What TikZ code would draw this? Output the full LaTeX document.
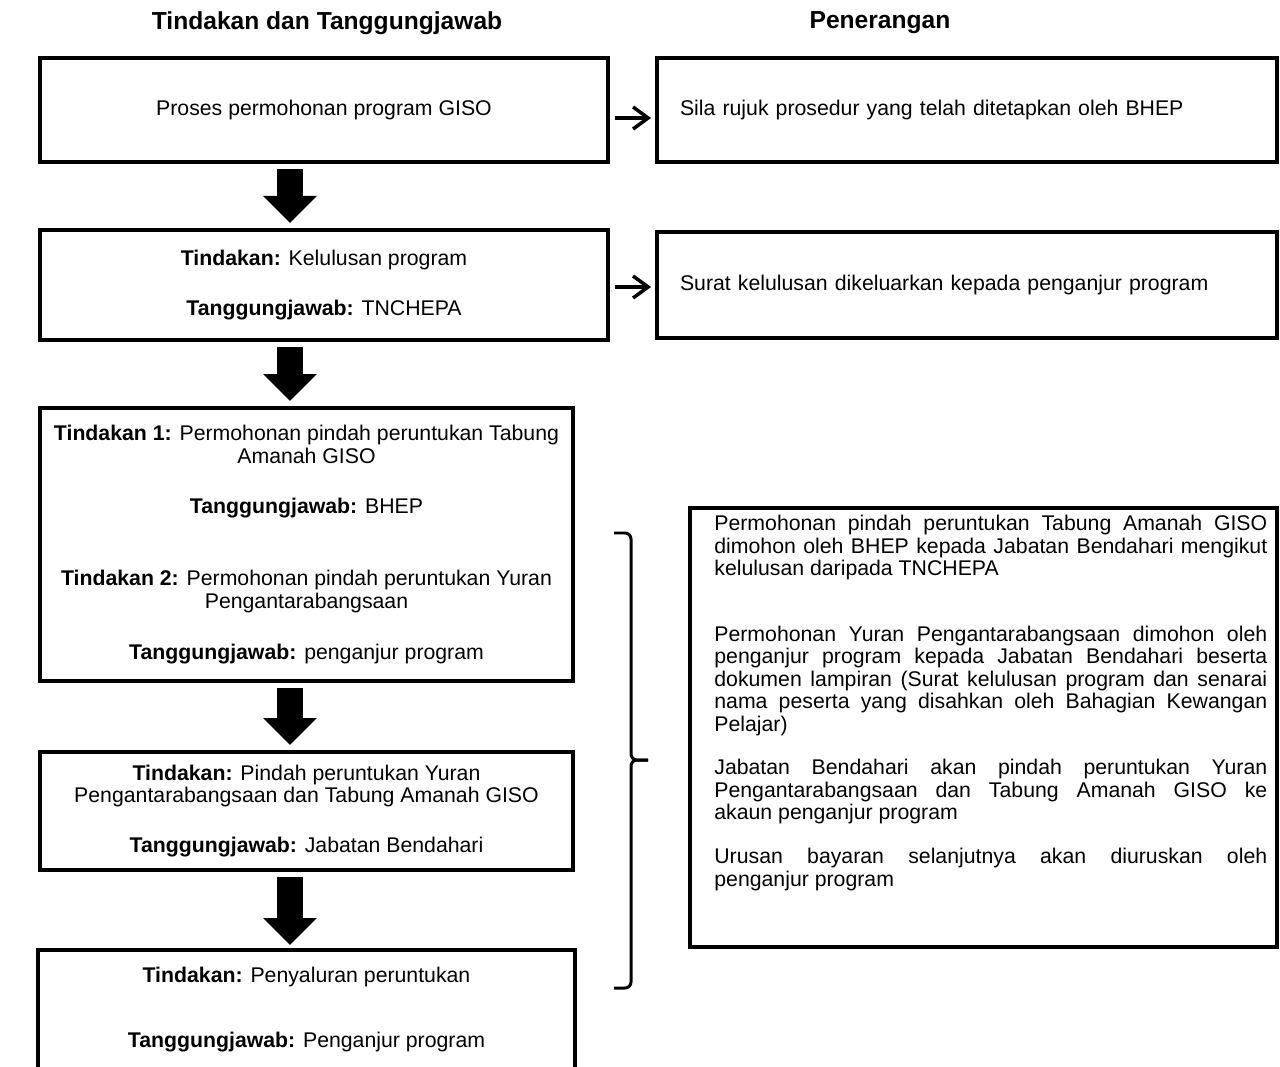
\documentclass[tikz,border=0pt]{standalone}
\usepackage{fontspec}
\setmainfont{Liberation Sans}
\usetikzlibrary{arrows.meta, positioning}
\setlength{\parindent}{0pt}
\tikzstyle{tajuk} = [inner sep=0pt, font=\fontsize{14}{16}\selectfont\bfseries]
\tikzstyle{kotak} = [rectangle, draw=black, line width=2.3pt, inner sep=0pt, align=center, font=\fontsize{12.1}{12.75}\selectfont]
\tikzstyle{kotakbuka} = [rectangle, line width=2.3pt, inner sep=0pt, align=center, font=\fontsize{12.1}{12.75}\selectfont]
\tikzstyle{kotakket} = [rectangle, draw=black, line width=2.3pt, text width=11.48cm, inner xsep=0.46cm, inner ysep=0pt, align=left, font=\fontsize{12.1}{12.75}\selectfont]
\tikzstyle{teksket} = [inner sep=0pt, text width=11.06cm, align=justify, font=\fontsize{12.1}{12.75}\selectfont]
\tikzstyle{garis} = [line width=2.3pt]
\tikzstyle{anakpanah} = [line width=0.52cm, -{Triangle[width=1.04cm,length=0.54cm]}, shorten <=0.1cm, shorten >=0.1cm]
\tikzstyle{panah} = [line width=2pt, -{Straight Barb[length=0.3cm,width=0.44cm]}, shorten <=0.1cm, shorten >=0.08cm]
\tikzstyle{kurung} = [line width=1.7pt, rounded corners=0.12cm]

\begin{document}
\begin{tikzpicture}[x=0.02cm, y=-0.02cm]
    \useasboundingbox (0,0) rectangle (1280,1067);
    % tajuk lajur
    \node (tajukkiri) [tajuk] at (327,23) {Tindakan dan Tanggungjawab};
    \node (tajukkanan) [tajuk] at (880,23) {Penerangan};

    % lajur kiri
    \node (proses) [kotak, minimum width=11.36cm, minimum height=2.08cm] at (324,110) {Proses permohonan program GISO};
    \node (lulus) [kotak, minimum width=11.36cm, minimum height=2.2cm] at (324,285) {\textbf{Tindakan:} Kelulusan program\\[0.55cm]\textbf{Tanggungjawab:} TNCHEPA};
    \node (mohon) [kotak, minimum width=10.66cm, minimum height=5.46cm] at (306.5,544.5) {\textbf{Tindakan 1:} Permohonan pindah peruntukan Tabung\\Amanah GISO\\[0.55cm]\textbf{Tanggungjawab:} BHEP\\[1.01cm]\textbf{Tindakan 2:} Permohonan pindah peruntukan Yuran\\Pengantarabangsaan\\[0.57cm]\textbf{Tanggungjawab:} penganjur program};
    \node (pindah) [kotak, minimum width=10.66cm, minimum height=2.36cm] at (306.5,811) {\textbf{Tindakan:} Pindah peruntukan Yuran\\Pengantarabangsaan dan Tabung Amanah GISO\\[0.55cm]\textbf{Tanggungjawab:} Jabatan Bendahari};
    \node (salur) [kotakbuka, minimum width=10.66cm, minimum height=2.3cm] at (306.5,1009.5) {\textbf{Tindakan:} Penyaluran peruntukan\\[0.85cm]\textbf{Tanggungjawab:} Penganjur program};
    \draw [garis] (salur.south west) |- (salur.north east) -- (salur.south east);

    % lajur kanan
    \node (sila) [kotakket, minimum width=12.4cm, minimum height=2.08cm] at (967,110) {Sila rujuk prosedur yang telah ditetapkan oleh BHEP};
    \node (surat) [kotakket, minimum width=12.4cm, minimum height=2.12cm] at (967,285) {Surat kelulusan dikeluarkan kepada penganjur program};
    \node (ketbox) [kotak, minimum width=11.74cm, minimum height=8.78cm] at (983.5,727.5) {};
    \node (kettext) [teksket, anchor=north west] at ([xshift=0.52cm, yshift=-0.18cm]ketbox.north west) {Permohonan pindah peruntukan Tabung Amanah GISO\linebreak dimohon oleh BHEP kepada Jabatan Bendahari mengikut\linebreak kelulusan daripada TNCHEPA\par\vspace{0.87cm}
    Permohonan Yuran Pengantarabangsaan dimohon oleh\linebreak penganjur program kepada Jabatan Bendahari beserta\linebreak dokumen lampiran (Surat kelulusan program dan senarai\linebreak nama peserta yang disahkan oleh Bahagian Kewangan\linebreak Pelajar)\par\vspace{0.43cm}
    Jabatan Bendahari akan pindah peruntukan Yuran\linebreak Pengantarabangsaan dan Tabung Amanah GISO ke\linebreak akaun penganjur program\par\vspace{0.43cm}
    Urusan bayaran selanjutnya akan diuruskan oleh\linebreak penganjur program};

    % anak panah
    \coordinate (paksi) at (290,0);
    \draw [anakpanah] (proses.south -| paksi) -- (lulus.north -| paksi);
    \draw [anakpanah] (lulus.south -| paksi) -- (mohon.north -| paksi);
    \draw [anakpanah] (mohon.south -| paksi) -- (pindah.north -| paksi);
    \draw [anakpanah] (pindah.south -| paksi) -- (salur.north -| paksi);
    \draw [panah] ([yshift=-0.16cm]proses.east) -- ([yshift=-0.16cm]sila.west);
    \draw [panah] ([yshift=-0.04cm]lulus.east) -- ([yshift=-0.04cm]surat.west);

    % kurungan
    \draw [kurung] (614,533) -| (631,760) -- (648,760);
    \draw [kurung] (648,760) -- (631,760) |- (614,988);
\end{tikzpicture}
\end{document}
